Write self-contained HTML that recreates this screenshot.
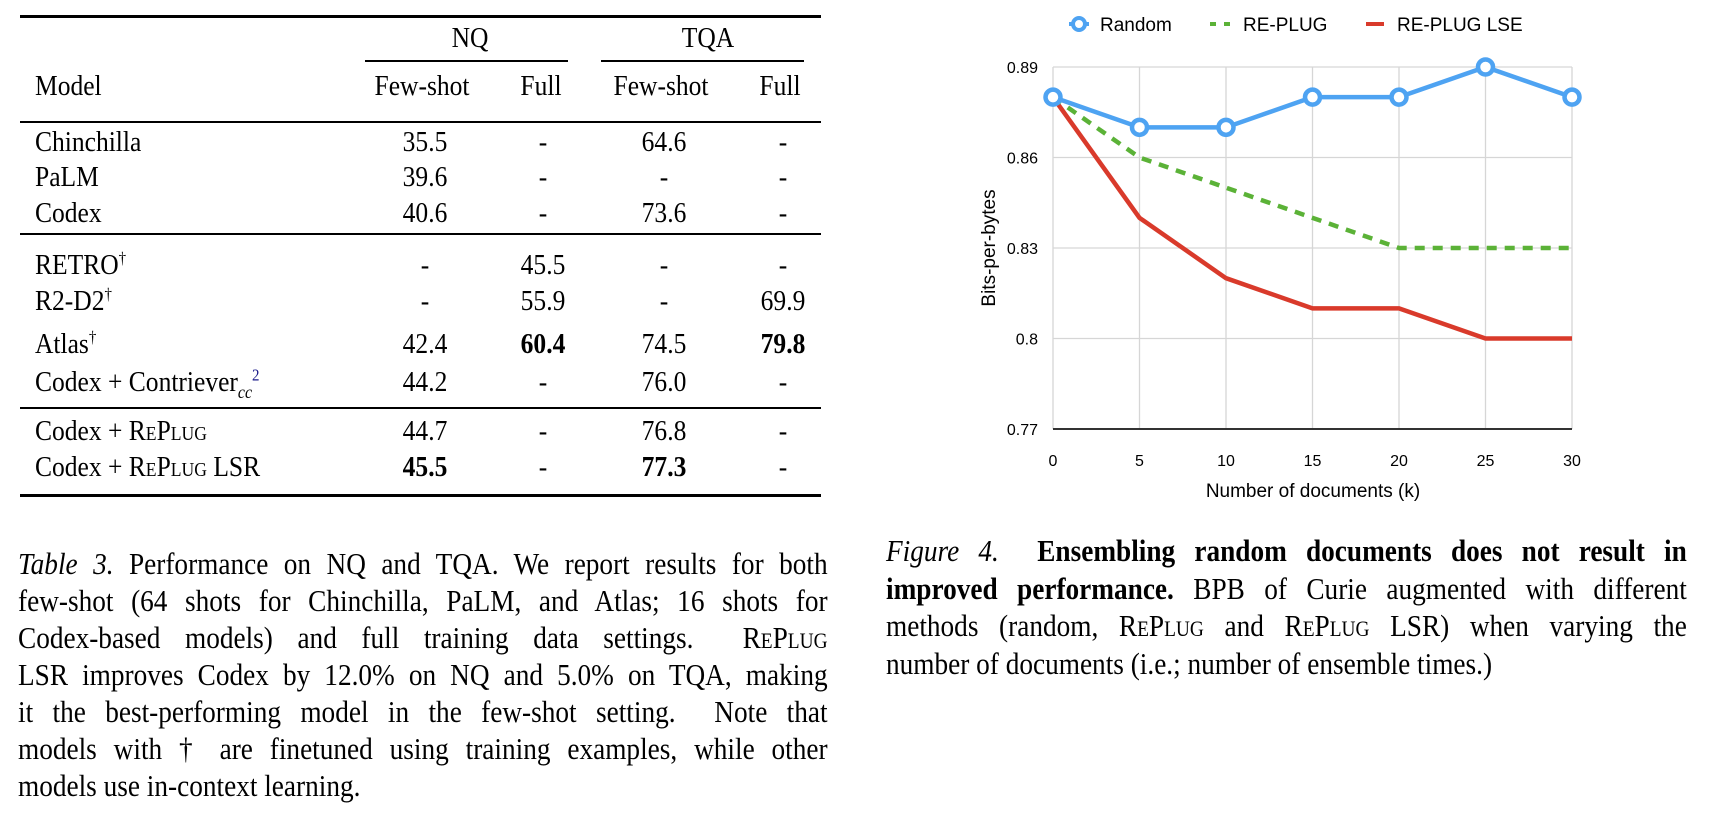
<!DOCTYPE html>
<html><head><meta charset="utf-8"><style>
body{margin:0;width:1713px;height:821px;background:#fff;position:relative;overflow:hidden;font-family:"Liberation Serif",serif;color:#000}
.t{position:absolute;font-size:29px;line-height:30px;white-space:nowrap;transform:scaleX(0.88);transform-origin:0 50%}
.c{transform:translateX(-50%) scaleX(0.88);transform-origin:50% 50%}
.rule{position:absolute;background:#000}
.cap{position:absolute;font-size:31px;line-height:37px;text-align:justify;text-align-last:justify;white-space:nowrap;transform:scaleX(0.88);transform-origin:0 0}
.sc{font-variant:small-caps}
sup{font-size:17px;line-height:0}
</style></head><body>
<div>
<div class="rule" style="left:20px;top:15px;width:801px;height:3px"></div>
<div class="t c" style="left:470px;top:23px">NQ</div>
<div class="t c" style="left:708px;top:23px">TQA</div>
<div class="rule" style="left:365px;top:60px;width:203px;height:1.5px"></div>
<div class="rule" style="left:601px;top:60px;width:203px;height:1.5px"></div>
<div class="t" style="left:35px;top:71px">Model</div>
<div class="t c" style="left:422px;top:71px">Few-shot</div>
<div class="t c" style="left:541px;top:71px">Full</div>
<div class="t c" style="left:661px;top:71px">Few-shot</div>
<div class="t c" style="left:780px;top:71px">Full</div>
<div class="rule" style="left:20px;top:121px;width:801px;height:2px"></div>
<div class="rule" style="left:20px;top:233px;width:801px;height:2px"></div>
<div class="rule" style="left:20px;top:407px;width:801px;height:2px"></div>
<div class="rule" style="left:20px;top:494px;width:801px;height:3px"></div>
<div id="rows"></div>
</div>
<div class="cap" style="left:18px;top:545px;width:920px">
<div><i>Table 3.</i> Performance on NQ and TQA. We report results for both</div>
<div>few-shot (64 shots for Chinchilla, PaLM, and Atlas; 16 shots for</div>
<div>Codex-based models) and full training data settings. &nbsp;R<span class="sc">e</span>P<span class="sc">lug</span></div>
<div>LSR improves Codex by 12.0% on NQ and 5.0% on TQA, making</div>
<div>it the best-performing model in the few-shot setting. &nbsp;Note that</div>
<div>models with † are finetuned using training examples, while other</div>
<div style="text-align-last:left">models use in-context learning.</div>
</div>
<div class="cap" style="left:886px;top:532px;width:910px;line-height:37.7px">
<div><i>Figure 4.</i> &nbsp;<b>Ensembling random documents does not result in</b></div>
<div><b>improved performance.</b> BPB of Curie augmented with different</div>
<div>methods (random, R<span class="sc">e</span>P<span class="sc">lug</span> and R<span class="sc">e</span>P<span class="sc">lug</span> LSR) when varying the</div>
<div style="text-align-last:left">number of documents (i.e.; number of ensemble times.)</div>
</div>
<svg id="chart" width="1713" height="821" style="position:absolute;left:0;top:0" font-family="Liberation Sans, sans-serif"></svg>
<script>
// table
const rowY=[127,162,198,250,286,329,367,416,452];
const rowNames=['Chinchilla','PaLM','Codex','RETRO<sup>†</sup>','R2-D2<sup>†</sup>','Atlas<sup>†</sup>','Codex + Contriever<sub style="font-size:18px;font-style:italic;line-height:0">cc</sub><sup style="color:#1a1a8a">2</sup>','Codex + R<span class="sc">e</span>P<span class="sc">lug</span>','Codex + R<span class="sc">e</span>P<span class="sc">lug</span> LSR'];
const cells=[['35.5','-','64.6','-'],['39.6','-','-','-'],['40.6','-','73.6','-'],['-','45.5','-','-'],['-','55.9','-','69.9'],['42.4','<b>60.4</b>','74.5','<b>79.8</b>'],['44.2','-','76.0','-'],['44.7','-','76.8','-'],['<b>45.5</b>','-','<b>77.3</b>','-']];
const colX=[425,543,664,783];
const rows=document.getElementById('rows');
rowY.forEach((y,i)=>{
 const n=document.createElement('div');n.className='t';n.style.left='35px';n.style.top=y+'px';n.innerHTML=rowNames[i];
 
 
 rows.appendChild(n);
 cells[i].forEach((v,j)=>{const d=document.createElement('div');d.className='t c';d.style.left=colX[j]+'px';d.style.top=y+'px';d.innerHTML=v;
 
 
 rows.appendChild(d);});
});
// chart
const xCats=[0,5,10,15,20,25,30];
const yTicks=[0.77,0.8,0.83,0.86,0.89];
const yTickLabels=['0.77','0.8','0.83','0.86','0.89'];
const randomVals=[0.88,0.87,0.87,0.88,0.88,0.89,0.88];
const replugVals=[0.88,0.86,0.85,0.84,0.83,0.83,0.83];
const lseVals=[0.88,0.84,0.82,0.81,0.81,0.80,0.80];
const X0=1053,X1=1572,Y0=429,Y1=67;
const xs=v=>X0+(v-0)/(30-0)*(X1-X0);
const ys=v=>Y0-(v-0.77)/(0.89-0.77)*(Y0-Y1);
const svg=document.getElementById('chart');const NS='http://www.w3.org/2000/svg';
function mk(t,a,p){const e=document.createElementNS(NS,t);for(const k in a)e.setAttribute(k,a[k]);(p||svg).appendChild(e);return e;}
yTicks.forEach((v,i)=>{
 const g=mk('line',{x1:X0,x2:X1,y1:ys(v),y2:ys(v),stroke:i==0?'#333':'#d6d6d6','stroke-width':i==0?2:1.3});
 
 
 const t=mk('text',{x:1038,y:ys(v)+6,'text-anchor':'end','font-size':16});t.textContent=yTickLabels[i];
 
 
});
xCats.forEach(v=>{
 const g=mk('line',{x1:xs(v),x2:xs(v),y1:Y1,y2:Y0,stroke:'#d6d6d6','stroke-width':1.3});
 
 
 const t=mk('text',{x:xs(v),y:466,'text-anchor':'middle','font-size':16});t.textContent=v;
 
 
});
const ax=mk('line',{x1:X0,x2:X1,y1:Y0,y2:Y0,stroke:'#333','stroke-width':2});


function pts(vals){return vals.map((v,i)=>xs(xCats[i])+','+ys(v)).join(' ');}
const lse=mk('polyline',{points:pts(lseVals),fill:'none',stroke:'#d93a2b','stroke-width':4.5});


const rp=mk('polyline',{points:pts(replugVals),fill:'none',stroke:'#5bb237','stroke-width':4.5,'stroke-dasharray':'10 8'});


const rd=mk('polyline',{points:pts(randomVals),fill:'none',stroke:'#4ea3f2','stroke-width':4.5});


randomVals.forEach((v,i)=>{const c=mk('circle',{cx:xs(xCats[i]),cy:ys(v),r:7.5,fill:'#fff',stroke:'#4ea3f2','stroke-width':4.5});
 
 });
const xt=mk('text',{x:1313,y:497,'text-anchor':'middle','font-size':19});xt.textContent='Number of documents (k)';


const yt=mk('text',{x:0,y:0,'text-anchor':'middle','font-size':19,transform:'translate(995,248) rotate(-90)'});yt.textContent='Bits-per-bytes';


// legend
const lg=mk('g',{});


mk('line',{x1:1069,x2:1089,y1:24,y2:24,stroke:'#4ea3f2','stroke-width':4},lg);
mk('circle',{cx:1079,cy:24,r:6,fill:'#fff',stroke:'#4ea3f2','stroke-width':4},lg);
const t1=mk('text',{x:1100,y:31,'font-size':19},lg);t1.textContent='Random';


mk('line',{x1:1210,x2:1230,y1:24,y2:24,stroke:'#5bb237','stroke-width':4,'stroke-dasharray':'6 8'},lg);
const t2=mk('text',{x:1243,y:31,'font-size':19},lg);t2.textContent='RE-PLUG';


mk('line',{x1:1366,x2:1384,y1:24,y2:24,stroke:'#d93a2b','stroke-width':4},lg);
const t3=mk('text',{x:1397,y:31,'font-size':19},lg);t3.textContent='RE-PLUG LSE';


</script>
</body></html>
